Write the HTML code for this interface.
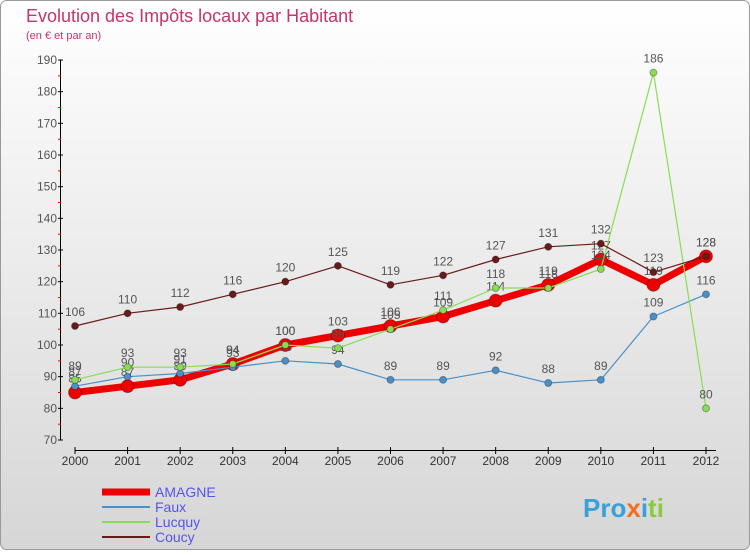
<!DOCTYPE html>
<html><head><meta charset="utf-8"><style>
body{margin:0;width:750px;height:550px;overflow:hidden;font-family:"Liberation Sans",sans-serif}
</style></head><body>
<svg id="c" width="750" height="550" xmlns="http://www.w3.org/2000/svg">
<defs><linearGradient id="bg" x1="0" y1="0" x2="0" y2="1"><stop offset="0" stop-color="#ffffff"/><stop offset="1" stop-color="#d6d6d6"/></linearGradient></defs>
<rect x="0.5" y="0.5" width="749" height="549" rx="6" fill="url(#bg)" stroke="#999"/>
<text x="26" y="22" font-size="18" fill="#c8336b">Evolution des Impôts locaux par Habitant</text>
<text x="26" y="39" font-size="11" fill="#c8336b">(en € et par an)</text>
<g id="axes"></g><g id="series"></g><g id="legend"></g>
<text x="583" y="517" font-size="26" font-weight="bold" fill="#f0a020"><tspan fill="#3aa0d8">Pro</tspan><tspan fill="#f07020">x</tspan><tspan fill="#3aa0d8">i</tspan><tspan fill="#8cc840">ti</tspan></text>
</svg>
<script>
const years=[2000,2001,2002,2003,2004,2005,2006,2007,2008,2009,2010,2011,2012];
const yTicks=[70,80,90,100,110,120,130,140,150,160,170,180,190];
const amagne=[85,87,89,94,100,103,106,109,114,119,127,119,128];
const faux=[87,90,91,93,95,94,89,89,92,88,89,109,116];
const lucquy=[89,93,93,94,100,99,105,111,118,118,124,186,80];
const coucy=[106,110,112,116,120,125,119,122,127,131,132,123,128];
const NS="http://www.w3.org/2000/svg";
const X=i=>75+i*(706-75)/12, Y=v=>440-(v-70)*(380/120);
function mk(t,a,p){const e=document.createElementNS(NS,t);for(const k in a)e.setAttribute(k,a[k]);p.appendChild(e);return e;}
const ax=document.getElementById('axes');
let l=mk('line',{x1:60.5,y1:60,x2:60.5,y2:440,stroke:'#000'},ax);


l=mk('line',{x1:75,y1:450.5,x2:716,y2:450.5,stroke:'#000'},ax);


yTicks.forEach(v=>{const y=Y(v);
mk('line',{x1:58,y1:y,x2:63,y2:y,stroke:'#000'},ax);
if(v<190)mk('line',{x1:58,y1:y-15.8,x2:61,y2:y-15.8,stroke:'red'},ax);
const t=mk('text',{x:57,y:y+4,'font-size':12,'text-anchor':'end',fill:'#555'},ax);t.textContent=v;

});
years.forEach((yr,i)=>{const x=X(i);
mk('line',{x1:x,y1:447,x2:x,y2:454,stroke:'#000'},ax);
const t=mk('text',{x:x,y:465,'font-size':12,'text-anchor':'middle',fill:'#333'},ax);t.textContent=yr;

});
const sg=document.getElementById('series');
const S=[{d:coucy,c:'#6b1a1a',w:1.2,r:3.5,n:'coucy'},{d:faux,c:'#4a90c8',w:1.2,r:3.5,n:'faux'},{d:lucquy,c:'#88dd55',w:1.2,r:3.5,n:'lucquy'},{d:amagne,c:'#ee0000',w:7,r:6.5,n:'amagne'}];
const order=[S[3],S[1],S[2],S[0]];
order.forEach(s=>{const g=mk('g',{},sg);


const p=mk('polyline',{points:s.d.map((v,i)=>X(i)+','+Y(v)).join(' '),fill:'none',stroke:s.c,'stroke-width':s.w,'stroke-linejoin':'round'},g);


s.d.forEach((v,i)=>{const c=mk('circle',{cx:X(i),cy:Y(v),r:s.r,fill:s.c,stroke:'rgba(0,0,0,0.3)'},g);


const t=mk('text',{x:X(i),y:Y(v)-10,'font-size':12,'text-anchor':'middle',fill:'#555'},g);t.textContent=v;

});});
const lg=document.getElementById('legend');
[{n:'AMAGNE',c:'#ee0000',w:7},{n:'Faux',c:'#4a90c8',w:2},{n:'Lucquy',c:'#88dd55',w:2},{n:'Coucy',c:'#6b1a1a',w:2}].forEach((e,i)=>{const y=492+i*15;
const g=mk('g',{},lg);


mk('line',{x1:102,y1:y,x2:150,y2:y,stroke:e.c,'stroke-width':e.w},g);
const t=mk('text',{x:155,y:y+5,'font-size':14,fill:'#5555ee'},g);t.textContent=e.n;});
</script>
</body></html>
